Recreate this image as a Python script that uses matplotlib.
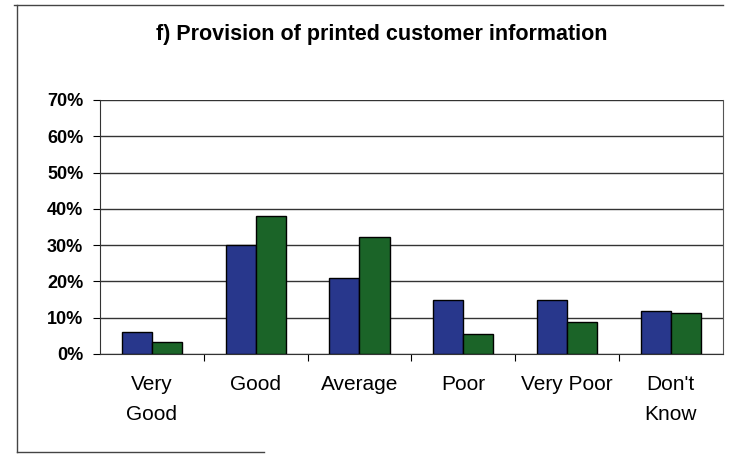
import matplotlib
matplotlib.use("Agg")
import matplotlib.pyplot as plt
from matplotlib.ticker import FixedLocator, PercentFormatter
from matplotlib.lines import Line2D
import numpy as np

matplotlib.rc("font", family=["Liberation Sans", "DejaVu Sans"])

CATEGORIES = ["Very\nGood", "Good", "Average", "Poor", "Very Poor", "Don't\nKnow"]
SERIES_A = [6.0, 30.0, 21.0, 15.0, 15.0, 11.8]
SERIES_B = [3.2, 38.0, 32.3, 5.5, 8.7, 11.2]
Y_TICKS = [0, 10, 20, 30, 40, 50, 60, 70]

BLUE = "#28378c"
GREEN = "#1b6428"


def plot():
    fig = plt.figure(figsize=(7.34, 4.54), dpi=100)
    ax = fig.add_axes([0.1362, 0.2203, 0.8484, 0.5595])

    x = np.arange(len(CATEGORIES))
    w = 0.29
    ax.bar(x - w / 2, SERIES_A, w, color=BLUE, edgecolor="black", linewidth=1.0, zorder=3)
    ax.bar(x + w / 2, SERIES_B, w, color=GREEN, edgecolor="black", linewidth=1.0, zorder=3)

    ax.set_xlim(-0.5, len(CATEGORIES) - 0.5)
    ax.set_ylim(0, 70)
    ax.set_yticks(Y_TICKS)
    ax.yaxis.set_major_formatter(PercentFormatter(decimals=0))
    for lbl in ax.get_yticklabels():
        lbl.set_fontweight("bold")
    ax.tick_params(axis="y", labelsize=13, length=5, width=0.8, direction="out", pad=7)
    ax.yaxis.grid(True, color="#333333", linewidth=1.0, zorder=0)

    # category labels centred, ticks only between groups
    ax.set_xticks(x)
    ax.set_xticklabels(CATEGORIES, fontsize=15, linespacing=1.75, va="top")
    ax.tick_params(axis="x", which="major", length=0, pad=15)
    ax.xaxis.set_minor_locator(FixedLocator(np.arange(0.5, len(CATEGORIES) - 0.5, 1.0)))
    ax.tick_params(axis="x", which="minor", length=5, width=0.8, direction="out")

    ax.spines["top"].set_visible(False)
    ax.spines["right"].set_color("#555555")
    ax.spines["left"].set_color("#333333")
    ax.spines["bottom"].set_color("#333333")

    fig.text(0.52, 0.925, "f) Provision of printed customer information",
             ha="center", va="center", fontsize=15.5, fontweight="bold")

    # outer frame around the chart
    fig.add_artist(Line2D([0.023, 0.023], [0.004, 0.99], color="#444444", lw=1.0))
    fig.add_artist(Line2D([0.019, 0.985], [0.99, 0.99], color="#444444", lw=1.0))
    fig.add_artist(Line2D([0.023, 0.36], [0.004, 0.004], color="#444444", lw=1.0))

    fig.savefig("out.png", dpi=100)


if __name__ == "__main__":
    plot()
